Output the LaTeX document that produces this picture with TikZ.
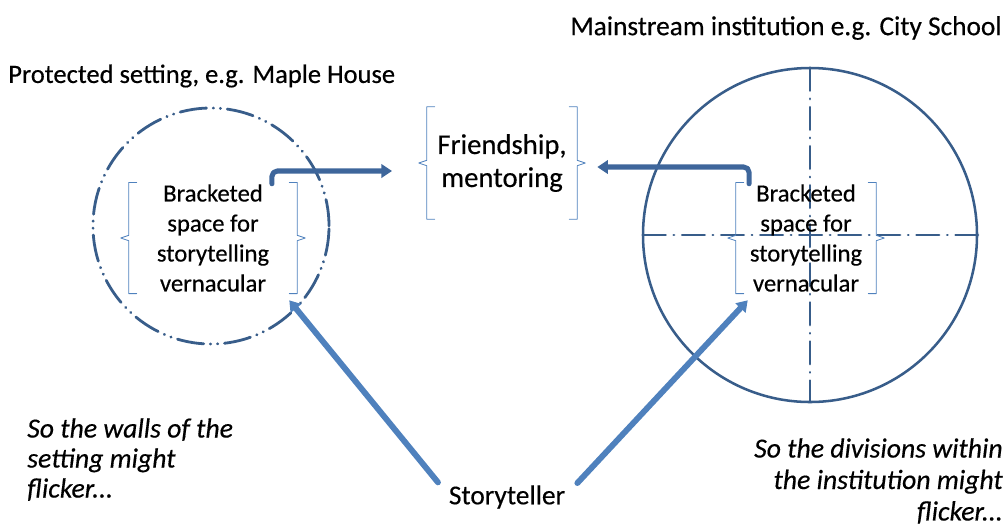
\documentclass[tikz,border=0pt]{standalone}
\usepackage{fontspec}
\setmainfont{Carlito}[FakeBold=0.4]
\usetikzlibrary{arrows.meta}
\usetikzlibrary{positioning}
\definecolor{wordblue}{RGB}{79,129,189}
\definecolor{lineblue}{RGB}{56,93,138}
\definecolor{arrowblue}{RGB}{62,102,155}

% square bracket pair with a small point in the middle of each side
\newcommand{\bracketpair}[1]{%
\draw[bracket] ([xshift=6pt]#1.north west) -- (#1.north west) -- ([yshift=2pt]#1.west) -- ([xshift=-6pt]#1.west) -- ([yshift=-2pt]#1.west) -- (#1.south west) -- ([xshift=6pt]#1.south west);
\draw[bracket] ([xshift=-6pt]#1.north east) -- (#1.north east) -- ([yshift=2pt]#1.east) -- ([xshift=6pt]#1.east) -- ([yshift=-2pt]#1.east) -- (#1.south east) -- ([xshift=-6pt]#1.south east);}

\begin{document}
\begin{tikzpicture}[line cap=round,line join=round,>={Triangle[length=8pt,width=10pt]},x=0.75pt,y=-0.75pt,
  bracket/.style={color=wordblue,line width=0.6pt},
  space/.style={align=center,inner sep=0pt,font=\fontsize{18.5pt}{22.5pt}\selectfont},
  label/.style={inner sep=0pt,font=\fontsize{20.5pt}{24pt}\selectfont},
  remark/.style={inner sep=0pt,font=\fontsize{20.8pt}{22.5pt}\selectfont\itshape},
  flow/.style={->,color=arrowblue,line width=3.8pt},
  story/.style={->,color=wordblue,line width=4.4pt},
  wall/.style={color=lineblue,line width=1.9pt}]
\useasboundingbox (0,0) rectangle (1006,526);
% the two settings
\draw[wall,line width=2.1pt,dash pattern=on 20pt off 5pt on 0.3pt off 5pt on 0.3pt off 5pt] (211,226) circle[radius=88.5pt];
\draw[wall] (810,235) circle[radius=125.25pt];
\draw[wall,dash pattern=on 17pt off 6pt on 0.3pt off 6pt] (643,235) -- (978,235);
\draw[wall,dash pattern=on 17pt off 6pt on 0.3pt off 6pt] (810,68) -- (810,402);
% headings
\node[label,font=\fontsize{19.9pt}{24pt}\selectfont,anchor=west] (protected) at (8,76) {Protected setting, e.g. Maple House};
\node[label,anchor=east] (mainstream) at (1002,28) {Mainstream institution e.g. City School};
% bracketed spaces
\node[space,minimum width=126pt,minimum height=83pt] (leftspace) at (213,238) {Bracketed\\space for\\storytelling\\vernacular};
\node[space,minimum width=105pt,minimum height=83pt] (rightspace) at (806,238) {Bracketed\\space for\\storytelling\\vernacular};
\node[space,font=\fontsize{21.5pt}{24.75pt}\selectfont,minimum width=112.5pt,minimum height=84pt] (friendship) at (502,163) {Friendship,\\mentoring};
\bracketpair{leftspace}
\bracketpair{rightspace}
\bracketpair{friendship}
\node[label] (storyteller) at (507,497) {Storyteller};
% remarks
\node[remark,anchor=north west,align=left] (walls) at (27,418) {So the walls of the\\setting might\\flicker...};
\node[remark,font=\fontsize{20.8pt}{23.6pt}\selectfont\itshape,anchor=north east,align=right] (divisions) at (1003,438) {So the divisions within\\the institution might\\flicker...};
% arrows
\draw[flow,rounded corners=4pt] ([xshift=-19pt,yshift=-1pt]leftspace.north east) |- ([xshift=-26pt,yshift=-6pt]friendship.west);
\draw[flow,rounded corners=4pt] ([xshift=10pt,yshift=-1pt]rightspace.north west) |- ([xshift=15pt,yshift=-3pt]friendship.east);
\draw[story] ([xshift=-8pt,yshift=2pt]storyteller.north west) -- ([xshift=-6pt,yshift=-5pt]leftspace.south east);
\draw[story] ([xshift=9pt,yshift=1.5pt]storyteller.north east) -- ([xshift=9pt,yshift=-5pt]rightspace.south west);
\end{tikzpicture}
\end{document}
